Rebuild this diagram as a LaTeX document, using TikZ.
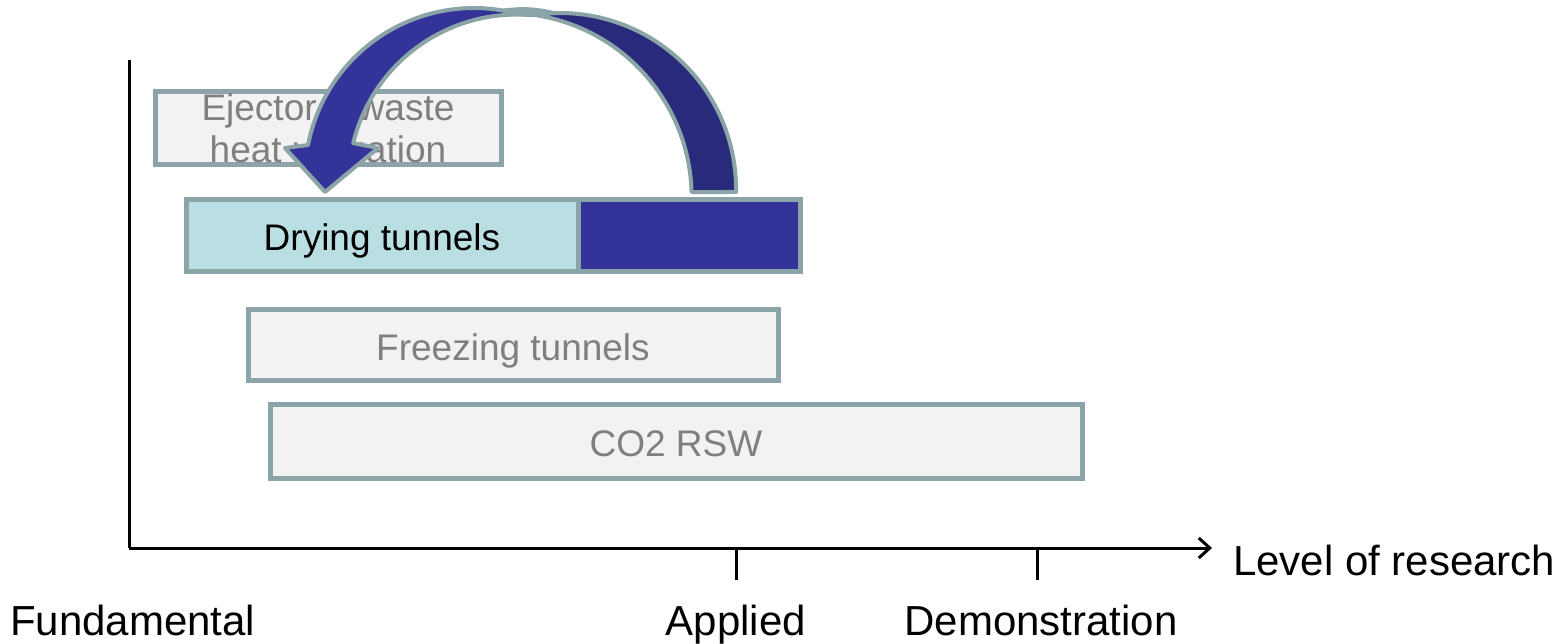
\documentclass[tikz,border=0pt]{standalone}
\usepackage{fontspec}
\setmainfont{Liberation Sans}
\usetikzlibrary{arrows.meta}
\definecolor{bord}{HTML}{8AA4A7}
\definecolor{boxgray}{HTML}{F2F2F2}
\definecolor{txtgray}{HTML}{7F7F7F}
\definecolor{lightaqua}{HTML}{B9DFE3}
\definecolor{navy}{HTML}{333399}
\definecolor{darknavy}{HTML}{2A2A7C}
\begin{document}
\begin{tikzpicture}[x=1pt,y=1pt,
  boxbase/.style={draw=bord, line width=5pt, fill=boxgray, inner sep=0pt, outer sep=0pt,
    text=txtgray, font=\fontsize{37}{42}\selectfont},
  boxone/.style={boxbase, text height=30pt, text depth=0pt},
  axisline/.style={line width=3pt, draw=black},
  axislabel/.style={font=\fontsize{42}{48}\selectfont, inner sep=0pt, outer sep=0pt},
  bandback/.style={fill=darknavy, draw=bord, line width=4pt, line join=round},
  bandfront/.style={fill=navy, draw=bord, line width=4pt, line join=round},
  bandcap/.style={fill=bord, draw=bord, line width=4pt, line join=round}]
\useasboundingbox (0,0) rectangle (1566,643);

% axes
\coordinate (ytop) at (129,583);
\coordinate (origin) at (129,95);
\coordinate (xend) at (1212,95);
\coordinate (tA) at (736,95);
\coordinate (tAb) at (736,63);
\coordinate (tD) at (1037,95);
\coordinate (tDb) at (1037,63);
\draw[axisline] (ytop) -- (origin);
\draw[axisline, -{Straight Barb[length=11pt,width=20pt,line width=3pt]}] (origin) -- (xend);
\draw[axisline] (tA) -- (tAb);
\draw[axisline] (tD) -- (tDb);

\node[axislabel, anchor=base west] (fund) at (10,8) {Fundamental};
\node[axislabel, anchor=base] (appl) at (736,8) {Applied};
\node[axislabel, anchor=base] (demo) at (1041,8) {Demonstration};
\node[axislabel, anchor=base west] (lev) at (1233,68) {Level of research};

% boxes
\node[boxbase, minimum width=346pt, minimum height=73pt, align=center] (ejector) at (328,514.5)
  {Ejector – waste\\heat utilization};
\node[boxone, fill=lightaqua, text=black, minimum width=392pt, minimum height=72pt] (drying) at (382,407)
  {Drying tunnels};
\node[boxbase, fill=navy, minimum width=222pt, minimum height=72pt] (dryblue) at (689,407) {};
\node[boxone, minimum width=530pt, minimum height=71pt] (freezing) at (513,297.5)
  {Freezing tunnels};
\node[boxone, minimum width=812pt, minimum height=74pt] (co2) at (676,201)
  {CO2 RSW};

% curved arrow: back band
\draw[bandback] (736,451)
  arc[start angle=-0.98, end angle=98.5, radius=176pt]
  arc[start angle=81.75, end angle=1.56, radius=184pt] -- cycle;
% curved arrow: front band with head
\draw[bandfront] (521,628.3)
  arc[start angle=73.85, end angle=169.1, radius=169pt]
  -- (285,495) -- (325,451) -- (378,495) -- (353.2,499.9)
  arc[start angle=166.4, end angle=88.46, radius=168pt] -- cycle;
% joined top of the two bands
\draw[bandcap] (503.3,632.4) to[bend left=10] (553.9,629.9)
  arc[start angle=92, end angle=98.5, radius=176pt] -- (521,628.3)
  arc[start angle=73.85, end angle=80, radius=169pt] -- cycle;
\end{tikzpicture}
\end{document}
